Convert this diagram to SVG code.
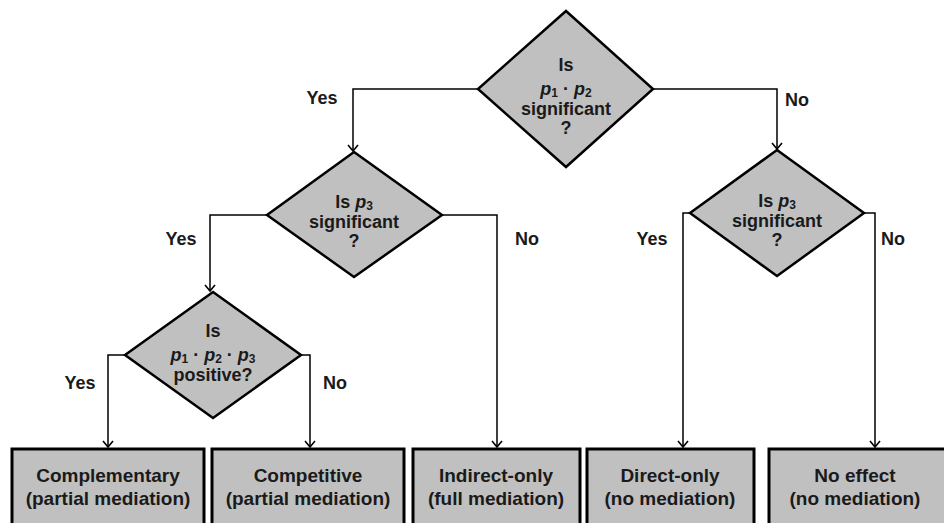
<svg xmlns="http://www.w3.org/2000/svg" width="944" height="523" viewBox="0 0 944 523">
<defs>
<style>
.shape{fill:#c0c0c0;stroke:#000;stroke-width:2.5;stroke-linejoin:miter}
.box{fill:#c0c0c0;stroke:#000;stroke-width:3}
.wire{fill:none;stroke:#000;stroke-width:1.5}
text{font-family:"Liberation Sans",Arial,sans-serif;font-weight:bold;fill:#1a1a1a;text-anchor:middle}
.dt{font-size:18px}
.bt{font-size:19px}
.lab{font-size:18px}
.i{font-style:italic}
.s{font-size:12px}
</style>
<marker id="arr" markerWidth="12" markerHeight="12" refX="10" refY="6" orient="auto" markerUnits="userSpaceOnUse" viewBox="0 0 12 12">
<path d="M4,1 L10,6 L4,11" fill="none" stroke="#000" stroke-width="1.6"/>
</marker>
</defs>
<rect width="944" height="523" fill="#fff"/>
<g id="connectors">
<path class="wire" d="M478,89 H353 V151" marker-end="url(#arr)"/>
<path class="wire" d="M653,89 H777 V149" marker-end="url(#arr)"/>
<path class="wire" d="M267,215 H210 V291" marker-end="url(#arr)"/>
<path class="wire" d="M442,215 H497 V447" marker-end="url(#arr)"/>
<path class="wire" d="M125,355 H108 V447" marker-end="url(#arr)"/>
<path class="wire" d="M301,355 H310 V447" marker-end="url(#arr)"/>
<path class="wire" d="M690,213 H683 V447" marker-end="url(#arr)"/>
<path class="wire" d="M864,213 H875 V447" marker-end="url(#arr)"/>
<text class="lab" x="322" y="104">Yes</text>
<text class="lab" x="797" y="106">No</text>
<text class="lab" x="181" y="245">Yes</text>
<text class="lab" x="527" y="245">No</text>
<text class="lab" x="652" y="245">Yes</text>
<text class="lab" x="893" y="245">No</text>
<text class="lab" x="80" y="389">Yes</text>
<text class="lab" x="335" y="389">No</text>
</g>
<g id="d1">
<polygon class="shape" points="566,11 653,89 566,167 478,89"/>
<text class="dt" x="566" y="71">Is</text>
<text class="dt" x="566" y="95"><tspan class="i">p</tspan><tspan class="s" dy="2">1</tspan><tspan dy="-2"> · </tspan><tspan class="i">p</tspan><tspan class="s" dy="2">2</tspan></text>
<text class="dt" x="566" y="115">significant</text>
<text class="dt" x="566" y="134">?</text>
</g>
<g id="d2">
<polygon class="shape" points="354,152 442,215 354,277 267,215"/>
<text class="dt" x="354" y="208">Is <tspan class="i">p</tspan><tspan class="s" dy="2">3</tspan></text>
<text class="dt" x="354" y="228">significant</text>
<text class="dt" x="354" y="247">?</text>
</g>
<g id="d3">
<polygon class="shape" points="213,292 301,355 213,418 125,355"/>
<text class="dt" x="213" y="337">Is</text>
<text class="dt" x="213" y="361"><tspan class="i">p</tspan><tspan class="s" dy="2">1</tspan><tspan dy="-2"> · </tspan><tspan class="i">p</tspan><tspan class="s" dy="2">2</tspan><tspan dy="-2"> · </tspan><tspan class="i">p</tspan><tspan class="s" dy="2">3</tspan></text>
<text class="dt" x="213" y="381">positive?</text>
</g>
<g id="d4">
<polygon class="shape" points="777,150 864,213 777,276 690,213"/>
<text class="dt" x="777" y="207">Is <tspan class="i">p</tspan><tspan class="s" dy="2">3</tspan></text>
<text class="dt" x="777" y="227">significant</text>
<text class="dt" x="777" y="246">?</text>
</g>
<g id="b1">
<rect class="box" x="12" y="449" width="192" height="80"/>
<text class="bt" x="108" y="482">Complementary</text>
<text class="bt" x="108" y="505">(partial mediation)</text>
</g>
<g id="b2">
<rect class="box" x="212" y="449" width="192" height="80"/>
<text class="bt" x="308" y="482">Competitive</text>
<text class="bt" x="308" y="505">(partial mediation)</text>
</g>
<g id="b3">
<rect class="box" x="413" y="449" width="167" height="80"/>
<text class="bt" x="496" y="482">Indirect-only</text>
<text class="bt" x="496" y="505">(full mediation)</text>
</g>
<g id="b4">
<rect class="box" x="587" y="449" width="167" height="80"/>
<text class="bt" x="670" y="482">Direct-only</text>
<text class="bt" x="670" y="505">(no mediation)</text>
</g>
<g id="b5">
<rect class="box" x="769" y="449" width="190" height="80"/>
<text class="bt" x="855" y="482">No effect</text>
<text class="bt" x="855" y="505">(no mediation)</text>
</g>
</svg>
